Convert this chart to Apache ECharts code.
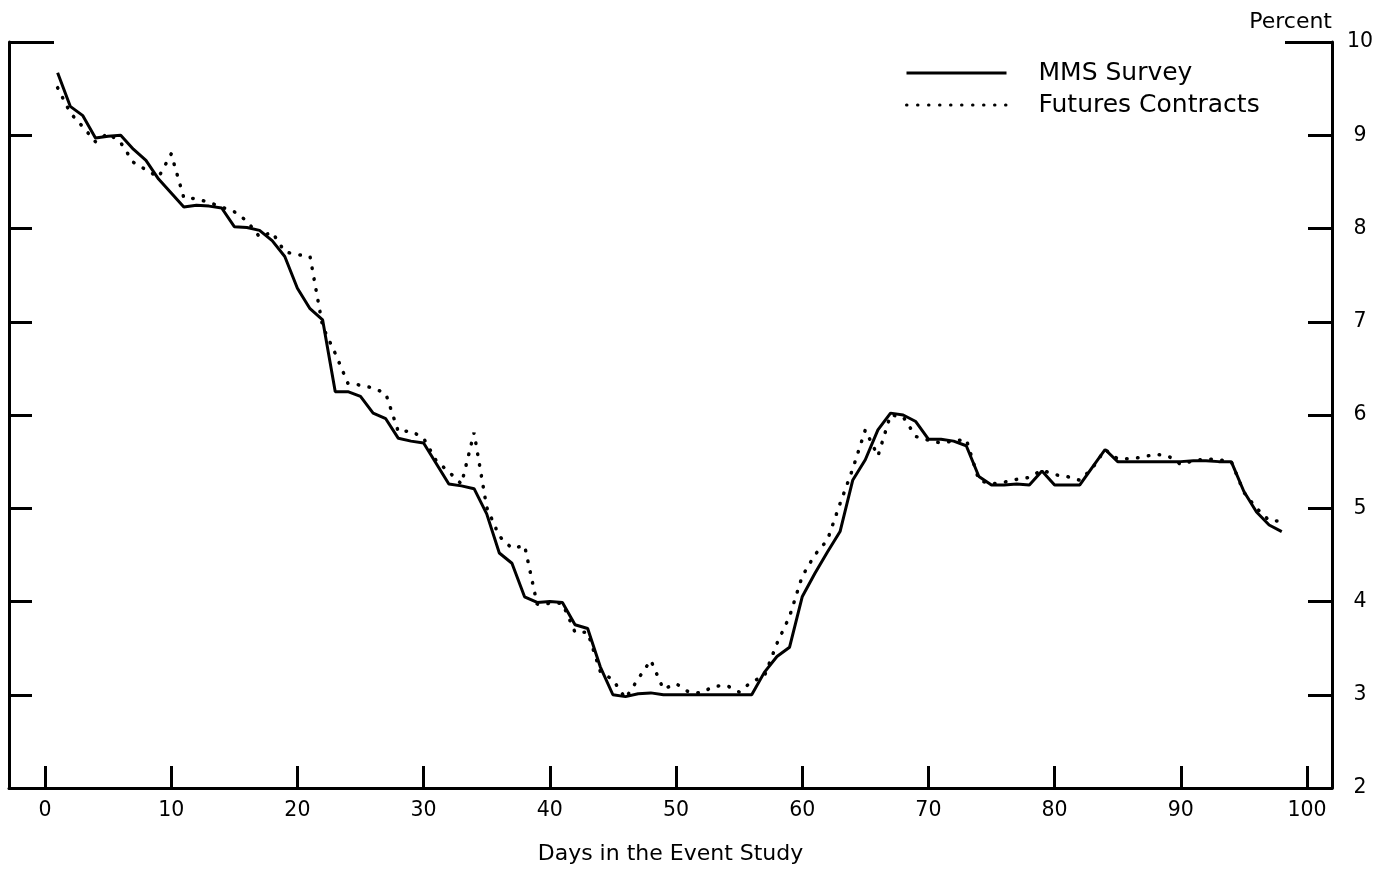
<!DOCTYPE html>
<html>
<head>
<meta charset="utf-8">
<title>MMS Survey vs Futures Contracts</title>
<script src="https://cdn.jsdelivr.net/npm/echarts@6/dist/echarts.min.js"></script>
<style>
  html, body { margin: 0; padding: 0; background: #fff; }
  #chart { width: 1395px; height: 874px; }
</style>
</head>
<body>
<div id="chart"></div>
<script>
'use strict';

const days = [
  1, 2, 3, 4, 5, 6, 7, 8, 9, 10, 11, 12, 13, 14, 15, 16, 17, 18, 19, 20,
  21, 22, 23, 24, 25, 26, 27, 28, 29, 30, 31, 32, 33, 34, 35, 36, 37, 38, 39, 40,
  41, 42, 43, 44, 45, 46, 47, 48, 49, 50, 51, 52, 53, 54, 55, 56, 57, 58, 59, 60,
  61, 62, 63, 64, 65, 66, 67, 68, 69, 70, 71, 72, 73, 74, 75, 76, 77, 78, 79, 80,
  81, 82, 83, 84, 85, 86, 87, 88, 89, 90, 91, 92, 93, 94, 95, 96, 97, 98
];

const mmsSurvey = [
  9.67, 9.31, 9.21, 8.97, 8.99, 9.00, 8.85, 8.73, 8.53, 8.38,
  8.23, 8.25, 8.24, 8.22, 8.02, 8.01, 7.98, 7.87, 7.70, 7.36,
  7.14, 7.02, 6.25, 6.25, 6.20, 6.02, 5.96, 5.75, 5.72, 5.70,
  5.48, 5.26, 5.24, 5.21, 4.94, 4.52, 4.41, 4.05, 3.99, 4.00,
  3.99, 3.75, 3.71, 3.30, 3.00, 2.98, 3.01, 3.02, 3.00, 3.00,
  3.00, 3.00, 3.00, 3.00, 3.00, 3.00, 3.24, 3.41, 3.51, 4.05,
  4.30, 4.53, 4.75, 5.30, 5.52, 5.84, 6.02, 6.00, 5.93, 5.74,
  5.74, 5.72, 5.67, 5.34, 5.25, 5.25, 5.26, 5.25, 5.40, 5.25,
  5.25, 5.25, 5.44, 5.63, 5.50, 5.50, 5.50, 5.50, 5.50, 5.50,
  5.51, 5.51, 5.50, 5.50, 5.18, 4.96, 4.82, 4.75
];

const futuresContracts = [
  9.51, 9.24, 9.09, 8.93, 9.02, 8.92, 8.71, 8.63, 8.55, 8.80,
  8.33, 8.32, 8.28, 8.23, 8.18, 8.08, 7.91, 7.96, 7.75, 7.72,
  7.70, 6.95, 6.66, 6.34, 6.32, 6.29, 6.23, 5.82, 5.83, 5.75,
  5.51, 5.39, 5.26, 5.81, 5.01, 4.70, 4.57, 4.60, 3.97, 3.98,
  3.98, 3.67, 3.67, 3.25, 3.16, 2.96, 3.17, 3.37, 3.06, 3.12,
  3.03, 3.02, 3.09, 3.10, 3.03, 3.14, 3.20, 3.55, 3.84, 4.27,
  4.50, 4.66, 5.05, 5.42, 5.84, 5.56, 6.00, 5.98, 5.77, 5.73,
  5.70, 5.72, 5.74, 5.30, 5.26, 5.28, 5.31, 5.33, 5.41, 5.36,
  5.34, 5.30, 5.43, 5.63, 5.53, 5.53, 5.55, 5.58, 5.56, 5.47,
  5.51, 5.53, 5.52, 5.50, 5.17, 5.00, 4.87, 4.86
];

const xTickLabels = ['0', '10', '20', '30', '40', '50', '60', '70', '80', '90', '100'];
const yTickLabels = ['2', '3', '4', '5', '6', '7', '8', '9', '10'];

const FONT = '"DejaVu Sans", "Liberation Sans", Arial, sans-serif';
const INK = '#000';

function pairs(xs, ys) {
  return xs.map((x, i) => [x, ys[i]]);
}

// frame axis: only the line + ticks, no labels
function frameY(position, interval, tickLength, labels) {
  return {
    type: 'value',
    gridIndex: 0,
    position: position,
    min: 2,
    max: 10,
    interval: interval,
    axisLine: { show: interval === 1, lineStyle: { color: INK, width: 3 } },
    axisTick: { show: true, inside: true, length: tickLength, lineStyle: { color: INK, width: 3 } },
    axisLabel: labels ? {
      show: true,
      color: INK,
      fontFamily: FONT,
      fontSize: 20.5,
      align: 'center',
      margin: 28,
      formatter: (v) => yTickLabels[v - 2]
    } : { show: false },
    splitLine: { show: false }
  };
}

const chart = echarts.init(document.getElementById('chart'), null, { renderer: 'canvas' });

chart.setOption({
  animation: false,
  backgroundColor: '#fff',
  textStyle: { fontFamily: FONT, color: INK },
  grid: [
    { left: 9, right: 63, top: 42, bottom: 86 },
    { left: 45, right: 88, top: 42, bottom: 86 }
  ],
  legend: {
    orient: 'vertical',
    left: 905,
    top: 60,
    padding: 0,
    itemWidth: 100,
    itemHeight: 20,
    itemGap: 6,
    selectedMode: false,
    itemStyle: { opacity: 0 },
    lineStyle: { width: 3 },
    textStyle: {
      fontFamily: FONT,
      fontSize: 25,
      lineHeight: 26,
      color: INK,
      padding: [0, 0, 0, 27]
    },
    data: ['MMS Survey', 'Futures Contracts']
  },
  xAxis: [
    {
      type: 'value',
      gridIndex: 0,
      min: 0,
      max: 1,
      axisLine: { show: true, lineStyle: { color: INK, width: 3 } },
      axisTick: { show: false },
      axisLabel: { show: false },
      splitLine: { show: false },
      name: 'Days in the Event Study',
      nameLocation: 'middle',
      nameGap: 55,
      nameTextStyle: { fontFamily: FONT, fontSize: 22, color: INK }
    },
    {
      type: 'value',
      gridIndex: 1,
      min: 0,
      max: 100,
      interval: 10,
      axisLine: { show: false },
      axisTick: { show: true, inside: true, length: 22, lineStyle: { color: INK, width: 3 } },
      axisLabel: {
        color: INK,
        fontFamily: FONT,
        fontSize: 20.5,
        margin: 12,
        formatter: (v) => xTickLabels[v / 10]
      },
      splitLine: { show: false }
    }
  ],
  yAxis: [
    frameY('left', 1, 23, false),
    Object.assign(frameY('right', 1, 24, true), {
      name: 'Percent',
      nameLocation: 'end',
      nameGap: 9,
      nameTextStyle: {
        fontFamily: FONT,
        fontSize: 22,
        color: INK,
        align: 'right',
        verticalAlign: 'bottom'
      }
    }),
    frameY('left', 8, 45, false),
    frameY('right', 8, 47, false),
    {
      type: 'value',
      gridIndex: 1,
      min: 2,
      max: 10,
      show: false
    }
  ],
  series: [
    {
      name: 'MMS Survey',
      type: 'line',
      xAxisIndex: 1,
      yAxisIndex: 4,
      data: pairs(days, mmsSurvey),
      symbol: 'none',
      lineStyle: { color: INK, width: 3 },
      itemStyle: { color: INK }
    },
    {
      name: 'Futures Contracts',
      type: 'line',
      xAxisIndex: 1,
      yAxisIndex: 4,
      data: pairs(days, futuresContracts),
      symbol: 'none',
      lineStyle: { color: INK, width: 3.5, type: [0.5, 10.5], cap: 'round' },
      itemStyle: { color: INK }
    }
  ]
});
</script>
</body>
</html>
